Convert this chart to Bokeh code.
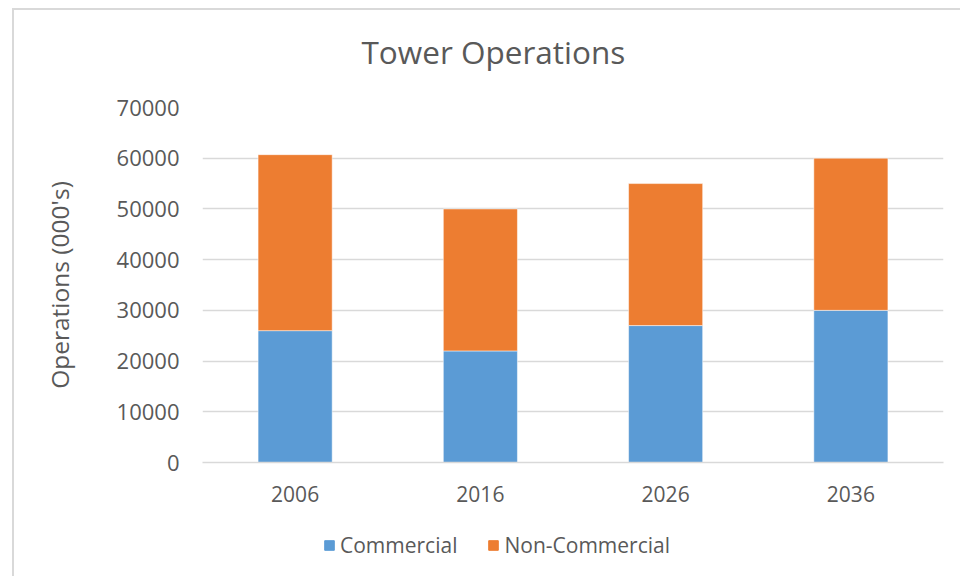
from bokeh.plotting import figure
from bokeh.layouts import column
from bokeh.models import (FactorRange, Range1d, FixedTicker, NumeralTickFormatter,
                          Legend, LegendItem, ColumnDataSource)
from bokeh.embed import file_html
from bokeh.resources import INLINE

# ---- data ----
years = ["2006", "2016", "2026", "2036"]
commercial = [26000, 22000, 27000, 30000]
non_commercial = [34700, 28000, 28000, 30000]
series_labels = ["Commercial", "Non-Commercial"]
series_colors = ["#5B9BD5", "#ED7D31"]
y_ticks = [0, 10000, 20000, 30000, 40000, 50000, 60000, 70000]

TEXT = "#595959"
GRID = "#d9d9d9"
FONT = "Open Sans"

source = ColumnDataSource(dict(years=years, commercial=commercial,
                               non_commercial=non_commercial))


def strip(height, y_range):
    f = figure(width=946, height=height, x_range=FactorRange(*years), y_range=y_range,
               output_backend="svg", toolbar_location=None,
               x_axis_location=None, y_axis_location=None, min_border=0)
    f.outline_line_color = None
    f.grid.visible = False
    f.background_fill_color = "white"
    f.border_fill_color = "white"
    return f


# ---- title strip ----
tf = strip(81, Range1d(0, 1))
tf.title.text = "Tower Operations"
tf.title.align = "left"
tf.title.offset = 159
tf.title.text_font = FONT
tf.title.text_font_size = "31.5px"
tf.title.text_font_style = "normal"
tf.title.text_color = TEXT
tf.title.standoff = 35

# ---- main chart ----
p = figure(x_range=FactorRange(*years), y_range=Range1d(0, 70000),
           width=946, height=425, output_backend="svg", toolbar_location=None,
           min_border_left=188, min_border_right=17, min_border_top=16,
           min_border_bottom=54)
p.outline_line_color = None
p.background_fill_color = "white"
p.border_fill_color = "white"

rs = p.vbar_stack(["commercial", "non_commercial"], x="years", width=0.4,
                  color=series_colors, line_color="white", line_width=0.5,
                  source=source)

ya = p.yaxis[0]
ya.ticker = FixedTicker(ticks=y_ticks)
ya.formatter = NumeralTickFormatter(format="0")
ya.axis_line_color = None
ya.major_tick_line_color = None
ya.minor_tick_line_color = None
ya.major_tick_out = 0
ya.major_label_standoff = 23
ya.major_label_text_font = FONT
ya.major_label_text_font_size = "22px"
ya.major_label_text_color = TEXT
ya.axis_label = "Operations (000's)"
ya.axis_label_text_font = FONT
ya.axis_label_text_font_size = "24.5px"
ya.axis_label_text_font_style = "normal"
ya.axis_label_text_color = TEXT
ya.axis_label_standoff = 38

xa = p.xaxis[0]
xa.axis_line_color = GRID
xa.axis_line_width = 1.5
xa.major_tick_line_color = None
xa.minor_tick_line_color = None
xa.major_tick_out = 0
xa.major_label_standoff = 23
xa.major_label_text_font = FONT
xa.major_label_text_font_size = "21px"
xa.major_label_text_color = TEXT

p.xgrid.grid_line_color = None
p.ygrid.grid_line_color = GRID
p.ygrid.grid_line_width = 1.5

# ---- legend strip (same series; renderers hidden, only the legend is shown) ----
lf = strip(60, Range1d(-300000, -200000))
lrs = lf.vbar_stack(["commercial", "non_commercial"], x="years", width=0.4,
                    color=series_colors, source=source)
for r in lrs:
    r.visible = False
legend = Legend(items=[LegendItem(label=series_labels[i], renderers=[lrs[i]]) for i in range(2)],
                orientation="horizontal", location=(121, 17),
                glyph_width=12, glyph_height=12, label_standoff=5, spacing=30,
                padding=0, margin=0, border_line_color=None,
                background_fill_alpha=0,
                label_text_font=FONT, label_text_font_size="21px",
                label_text_color=TEXT)
lf.add_layout(legend, "center")

layout = column(tf, p, lf, spacing=0,
                styles={"border-left": "2px solid #d9d9d9", "border-top": "2px solid #d9d9d9",
                        "margin-left": "12px", "margin-top": "8px"})

open("out.html", "w").write(file_html(layout, INLINE))
